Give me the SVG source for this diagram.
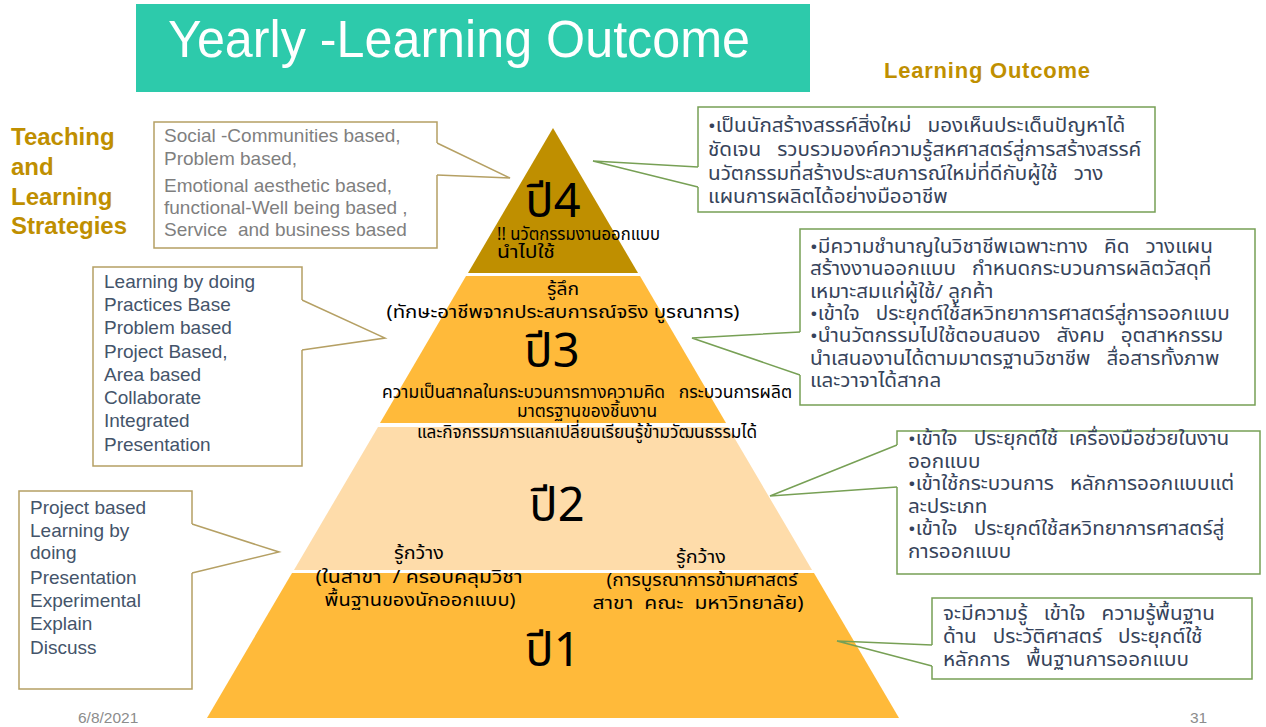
<svg xmlns="http://www.w3.org/2000/svg" width="1266" height="727" viewBox="0 0 1266 727">
<style>
text{white-space:pre;font-family:"Liberation Sans","Noto Sans Thai","Tahoma","DejaVu Sans",sans-serif}
.th{font-family:"Noto Sans Thai","Tahoma","Liberation Sans","DejaVu Sans",sans-serif}
.gold{fill:#BF8F00;font-weight:bold}
.en{font-size:19px;fill:#44546A}
.gray{font-size:19px;fill:#7F7F7F}
.rt{font-size:19px;fill:#36435A}
.pt{font-size:18px;fill:#000}
.big{font-size:47px;fill:#000;text-anchor:middle}
.mid{text-anchor:middle}
.boxL{fill:#fff;stroke:none}
.edgeL{fill:none;stroke:#B5A064;stroke-width:1.5}
.edgeR{fill:none;stroke:#77A055;stroke-width:1.5}
.foot{font-size:15.5px;fill:#8C8C8C}
</style>
<rect width="1266" height="727" fill="#fff"/>
<g id="title">
<rect x="136" y="4" width="674" height="88" fill="#2DCAAB"/>
<text x="168" y="57" font-size="51" fill="#fff" textLength="582" lengthAdjust="spacingAndGlyphs">Yearly -Learning Outcome</text>
</g>
<g id="label-outcome"><text class="gold" x="884" y="78" font-size="22" textLength="206">Learning Outcome</text></g>
<g id="label-strategies">
<text class="gold" x="11" y="145" font-size="24">Teaching</text>
<text class="gold" x="11" y="175" font-size="24">and</text>
<text class="gold" x="11" y="205" font-size="24">Learning</text>
<text class="gold" x="11" y="234" font-size="24">Strategies</text>
</g>
<g id="tier4">
<polygon points="553,128 638,273 468,273" fill="#BF8F00"/>
<text class="big th" x="553" y="217">ปี4</text>
<text class="pt th" x="497" y="240" font-size="15" textLength="163" lengthAdjust="spacingAndGlyphs">!! นวัตกรรมงานออกแบบ</text>
<text class="pt th" x="497" y="258" font-size="15" textLength="58" lengthAdjust="spacingAndGlyphs">นำไปใช้</text>
</g>
<g id="tier3">
<polygon points="466,276 640,276 726,423 380,423" fill="#FFBA3A"/>
<text class="pt th mid" x="563" y="295" textLength="32" lengthAdjust="spacingAndGlyphs">รู้ลึก</text>
<text class="pt th mid" x="563" y="318" textLength="353" lengthAdjust="spacingAndGlyphs">(ทักษะอาชีพจากประสบการณ์จริง บูรณาการ)</text>
<text class="big th" x="552" y="367">ปี3</text>
<text class="pt th mid" x="587" y="398" font-size="15.5" textLength="410" lengthAdjust="spacingAndGlyphs">ความเป็นสากลในกระบวนการทางความคิด   กระบวนการผลิต</text>
<text class="pt th mid" x="587" y="417" font-size="15.5" textLength="140" lengthAdjust="spacingAndGlyphs">มาตรฐานของชิ้นงาน</text>
</g>
<g id="tier2">
<polygon points="378,427 728,427 812,570 294,570" fill="#FEDCAA"/>
<text class="pt th mid" x="587" y="438" font-size="15.5" textLength="340" lengthAdjust="spacingAndGlyphs">และกิจกรรมการแลกเปลี่ยนเรียนรู้ข้ามวัฒนธรรมได้</text>
<text class="big th" x="557" y="521">ปี2</text>
<text class="pt th mid" x="419" y="559" textLength="50" lengthAdjust="spacingAndGlyphs">รู้กว้าง</text>
<text class="pt th mid" x="701" y="563" textLength="50" lengthAdjust="spacingAndGlyphs">รู้กว้าง</text>
</g>
<g id="tier1">
<polygon points="292,573 814,573 899,718 207,718" fill="#FFBA3A"/>
<text class="pt th mid" x="419" y="583" textLength="207" lengthAdjust="spacingAndGlyphs">(ในสาขา  / ครอบคลุมวิชา</text>
<text class="pt th mid" x="420" y="606" textLength="191" lengthAdjust="spacingAndGlyphs">พื้นฐานของนักออกแบบ)</text>
<text class="pt th mid" x="702" y="586" textLength="191" lengthAdjust="spacingAndGlyphs">(การบูรณาการข้ามศาสตร์</text>
<text class="pt th mid" x="698" y="609" textLength="211" lengthAdjust="spacingAndGlyphs">สาขา  คณะ  มหาวิทยาลัย)</text>
<text class="big th" x="553" y="666">ปี1</text>
</g>
<g id="connectors">
<polyline class="edgeL" points="437,143 510,178 437,175"/>
<polyline class="edgeL" points="302,300 385,338 302,350"/>
<polyline class="edgeL" points="192,524 279,552 192,573"/>
<polyline class="edgeR" points="698,167 593,161 698,187"/>
<polyline class="edgeR" points="800,332 692,338 800,375"/>
<polyline class="edgeR" points="897,445 770,496 897,487"/>
<polyline class="edgeR" points="932,645 837,641 932,666"/>
</g>
<g id="box-strategy-y4">
<rect class="boxL" x="154" y="122" width="283" height="126"/>
<path class="edgeL" d="M437,143 V122 H154 V248 H437 V175"/>
<text class="gray" x="164" y="142">Social -Communities based,</text>
<text class="gray" x="164" y="165">Problem based,</text>
<text class="gray" x="164" y="192">Emotional aesthetic based,</text>
<text class="gray" x="164" y="214">functional-Well being based ,</text>
<text class="gray" x="164" y="236">Service  and business based</text>
</g>
<g id="box-strategy-y3">
<rect class="boxL" x="93" y="267" width="209" height="199"/>
<path class="edgeL" d="M302,300 V267 H93 V466 H302 V350"/>
<text class="en" x="104" y="288">Learning by doing</text>
<text class="en" x="104" y="311">Practices Base</text>
<text class="en" x="104" y="334">Problem based</text>
<text class="en" x="104" y="358">Project Based,</text>
<text class="en" x="104" y="381">Area based</text>
<text class="en" x="104" y="404">Collaborate</text>
<text class="en" x="104" y="427">Integrated</text>
<text class="en" x="104" y="451">Presentation</text>
</g>
<g id="box-strategy-y12">
<rect class="boxL" x="19" y="491" width="173" height="198"/>
<path class="edgeL" d="M192,524 V491 H19 V689 H192 V573"/>
<text class="en" x="30" y="514">Project based</text>
<text class="en" x="30" y="537">Learning by</text>
<text class="en" x="30" y="559">doing</text>
<text class="en" x="30" y="584">Presentation</text>
<text class="en" x="30" y="607">Experimental</text>
<text class="en" x="30" y="630">Explain</text>
<text class="en" x="30" y="654">Discuss</text>
</g>
<g id="box-outcome-y4">
<rect class="boxL" x="698" y="107" width="457" height="105"/>
<path class="edgeR" d="M698,167 V107 H1155 V212 H698 V187"/>
<g transform="matrix(1.087 0 0 1 -61.6 0)">
<text class="rt th" x="708" y="132">•เป็นนักสร้างสรรค์สิ่งใหม่   มองเห็นประเด็นปัญหาได้</text>
<text class="rt th" x="708" y="156">ชัดเจน   รวบรวมองค์ความรู้สหศาสตร์สู่การสร้างสรรค์</text>
<text class="rt th" x="708" y="180">นวัตกรรมที่สร้างประสบการณ์ใหม่ที่ดีกับผู้ใช้   วาง</text>
<text class="rt th" x="708" y="203">แผนการผลิตได้อย่างมืออาชีพ</text>
</g>
</g>
<g id="box-outcome-y3">
<rect class="boxL" x="800" y="229" width="455" height="176"/>
<path class="edgeR" d="M800,332 V229 H1255 V405 H800 V375"/>
<g transform="matrix(1.087 0 0 1 -70.47 0)">
<text class="rt th" x="810" y="253">•มีความชำนาญในวิชาชีพเฉพาะทาง   คิด   วางแผน</text>
<text class="rt th" x="810" y="275">สร้างงานออกแบบ   กำหนดกระบวนการผลิตวัสดุที่</text>
<text class="rt th" x="810" y="298">เหมาะสมแก่ผู้ใช้/ ลูกค้า</text>
<text class="rt th" x="810" y="320">•เข้าใจ   ประยุกต์ใช้สหวิทยาการศาสตร์สู่การออกแบบ</text>
<text class="rt th" x="810" y="342">•นำนวัตกรรมไปใช้ตอบสนอง   สังคม   อุตสาหกรรม</text>
<text class="rt th" x="810" y="365">นำเสนองานได้ตามมาตรฐานวิชาชีพ   สื่อสารทั้งภาพ</text>
<text class="rt th" x="810" y="387">และวาจาได้สากล</text>
</g>
</g>
<g id="box-outcome-y2">
<rect class="boxL" x="897" y="431" width="363" height="143"/>
<path class="edgeR" d="M897,445 V431 H1260 V574 H897 V487"/>
<g transform="matrix(1.087 0 0 1 -79.0 0)">
<text class="rt th" x="908" y="445">•เข้าใจ   ประยุกต์ใช้  เครื่องมือช่วยในงาน</text>
<text class="rt th" x="908" y="468">ออกแบบ</text>
<text class="rt th" x="908" y="490">•เข้าใช้กระบวนการ   หลักการออกแบบแต่</text>
<text class="rt th" x="908" y="513">ละประเภท</text>
<text class="rt th" x="908" y="535">•เข้าใจ   ประยุกต์ใช้สหวิทยาการศาสตร์สู่</text>
<text class="rt th" x="908" y="558">การออกแบบ</text>
</g>
</g>
<g id="box-outcome-y1">
<rect class="boxL" x="932" y="598" width="320" height="81"/>
<path class="edgeR" d="M932,645 V598 H1252 V679 H932 V666"/>
<g transform="matrix(1.087 0 0 1 -82.04 0)">
<text class="rt th" x="943" y="620">จะมีความรู้   เข้าใจ   ความรู้พื้นฐาน</text>
<text class="rt th" x="943" y="643">ด้าน   ประวัติศาสตร์   ประยุกต์ใช้</text>
<text class="rt th" x="943" y="666">หลักการ   พื้นฐานการออกแบบ</text>
</g>
</g>
<g id="footer">
<text class="foot" x="78" y="723">6/8/2021</text>
<text class="foot" x="1190" y="723">31</text>
</g>
</svg>
